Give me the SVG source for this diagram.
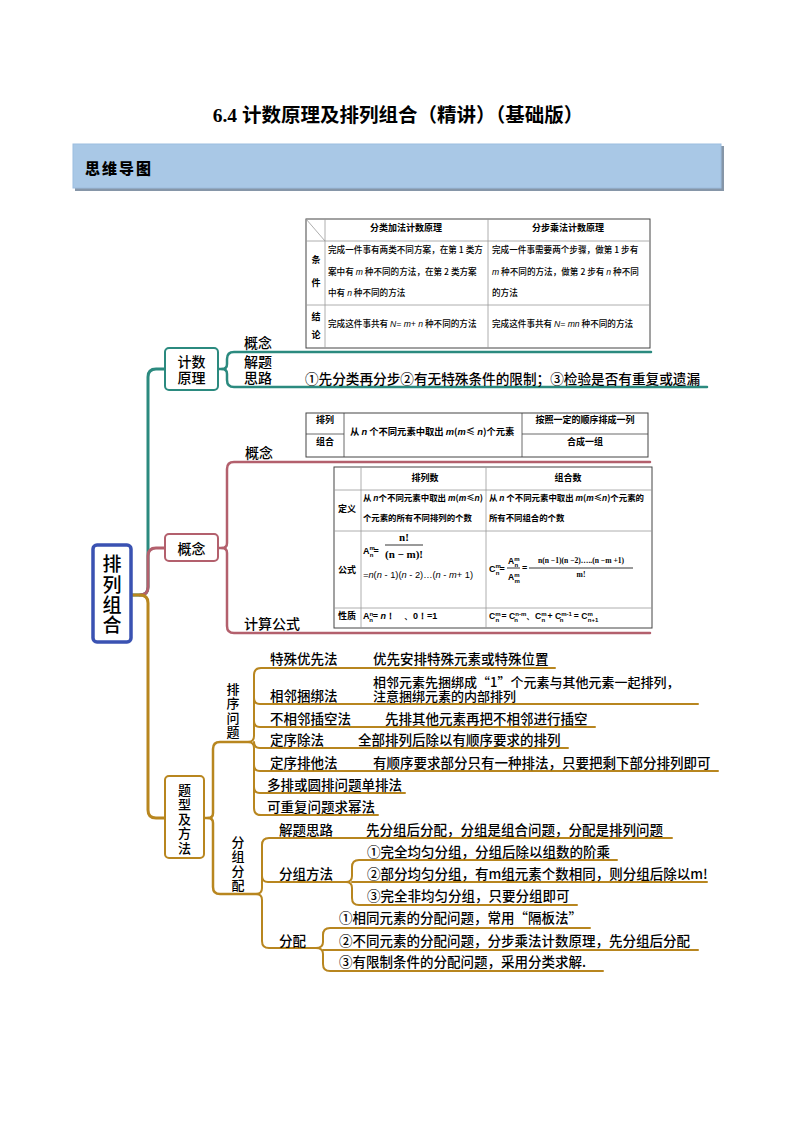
<svg xmlns="http://www.w3.org/2000/svg" width="794" height="1123" viewBox="0 0 794 1123">
<style>
text{font-family:"Noto Sans CJK SC","Liberation Sans",sans-serif;fill:#000;}
.t{font-size:13.5px;font-weight:500;dominant-baseline:central;}
.lb{font-size:14px;font-weight:500;dominant-baseline:central;}
.v{font-size:13px;font-weight:500;writing-mode:vertical-rl;letter-spacing:1.5px;}
.tb{font-size:8.6px;font-weight:500;}
.tbh{font-size:9px;font-weight:bold;}
.i{font-family:"Liberation Sans",sans-serif;font-style:italic;}
.f{font-family:"Liberation Serif",serif;font-weight:bold;}
.teal{stroke:#2b8a7f;fill:none;stroke-linecap:round;stroke-linejoin:round;}
.pink{stroke:#b3606d;fill:none;stroke-linecap:round;stroke-linejoin:round;}
.gold{stroke:#b8861f;fill:none;stroke-linecap:round;stroke-linejoin:round;}
.grid{stroke:#999;stroke-width:0.8;fill:none;}
.outer{stroke:#444;stroke-width:1;fill:#fff;}
.sub{font-size:6px;}
</style>
<rect width="794" height="1123" fill="#fff"/>
<g id="title">
<text x="398" y="122" text-anchor="middle" style="font-family:'Liberation Serif','Noto Sans CJK SC',serif;font-size:19.5px;font-weight:bold;">6.4 计数原理及排列组合（精讲）（基础版）</text>
</g>
<g id="header">
<rect x="75" y="146" width="649" height="45" fill="#8696a8"/>
<rect x="73" y="144" width="648" height="44" fill="#a9c8e6" stroke="#9cbddf" stroke-width="1"/>
<text x="85" y="167" style="font-size:15px;font-weight:900;dominant-baseline:central;letter-spacing:2px;">思维导图</text>
</g>

<g id="connectors">
<path class="teal" stroke-width="3" d="M131,595 H140 Q148,595 148,587 V377 Q148,369 156,369 H165"/>
<path class="teal" stroke-width="2.5" d="M218,369 H222 Q227,369 227,364 V359 Q227,352 234,352 H651"/>
<path class="teal" stroke-width="2.5" d="M222,369 Q227,369 227,374 V380 Q227,387 234,387 H707"/>
<path class="pink" stroke-width="3" d="M140,595 Q148,595 148,587 V556 Q148,548 156,548 H165"/>
<path class="pink" stroke-width="2.5" d="M218,548 H222 Q227,548 227,543 V469 Q227,462 234,462 H650"/>
<path class="pink" stroke-width="2.5" d="M222,548 Q227,548 227,553 V626 Q227,633 234,633 H650"/>
<path class="gold" stroke-width="3" d="M131,595 H140 Q148,595 148,603 V810 Q148,818 156,818 H165"/>
<path class="gold" stroke-width="2.5" d="M204,818 H208 Q213,818 213,813 V749 Q213,742 220,742 H250"/>
<path class="gold" stroke-width="2.5" d="M208,818 Q213,818 213,823 V887 Q213,894 220,894 H259"/>
<path class="gold" stroke-width="2" d="M248,742 Q254,742 254,736 V675 Q254,668 261,668 H555"/>
<path class="gold" stroke-width="2" d="M248,742 Q254,742 254,748 V808 Q254,815 261,815 H378"/>
<path class="gold" stroke-width="2" d="M254,698 Q254,704 260,704 H698"/>
<path class="gold" stroke-width="2" d="M254,721 Q254,727 260,727 H595"/>
<path class="gold" stroke-width="2" d="M254,742 Q254,748 260,748 H568"/>
<path class="gold" stroke-width="2" d="M254,765 Q254,771 260,771 H718"/>
<path class="gold" stroke-width="2" d="M254,787 Q254,793 260,793 H405"/>
<path class="gold" stroke-width="2" d="M256,894 Q262,894 262,888 V845 Q262,838 269,838 H672"/>
<path class="gold" stroke-width="2" d="M256,894 Q262,894 262,900 V941 Q262,948 269,948 H317"/>
<path class="gold" stroke-width="2" d="M262,876 Q262,882 268,882 H347"/>
<path class="gold" stroke-width="2" d="M346,882 Q352,882 352,876 V867 Q352,860 359,860 H617"/>
<path class="gold" stroke-width="2" d="M346,882 Q352,882 352,888 V898 Q352,905 359,905 H577"/>
<path class="gold" stroke-width="2" d="M352,882 H707"/>
<path class="gold" stroke-width="2" d="M316,948 Q323,948 323,942 V935 Q323,928 330,928 H590"/>
<path class="gold" stroke-width="2" d="M316,948 Q323,948 323,954 V964 Q323,971 330,971 H603"/>
<path class="gold" stroke-width="2" d="M323,950 H698"/>
</g>

<g id="root">
<rect x="93" y="545" width="38" height="97" rx="4" fill="#fff" stroke="#3a52b2" stroke-width="3.5"/>
<text x="112" y="554.5" style="font-size:19px;font-weight:500;writing-mode:vertical-rl;letter-spacing:1.3px;">排列组合</text>
</g>

<g id="node-jishu">
<rect x="165" y="348" width="53" height="42" rx="4" fill="#fff" stroke="#2b8a7f" stroke-width="2"/>
<text text-anchor="middle" class="lb"><tspan x="191.5" y="361">计数</tspan><tspan x="191.5" y="377">原理</tspan></text>
</g>
<g id="jishu-gainian">
<text x="244" y="342" class="lb">概念</text>
<rect x="306" y="219" width="344" height="129" class="outer"/>
<path class="grid" d="M325,219 V348 M488,219 V348 M306,241 H650 M306,305 H650 M306,219 L325,241"/>
<text x="406" y="231" text-anchor="middle" class="tbh">分类加法计数原理</text>
<text x="568" y="231" text-anchor="middle" class="tbh">分步乘法计数原理</text>
<text text-anchor="middle" class="tbh"><tspan x="316" y="263">条</tspan><tspan x="316" y="286">件</tspan></text>
<text x="328" y="253" class="tb">完成一件事有两类不同方案，在第 1 类方</text>
<text x="328" y="275" class="tb">案中有 <tspan class="i">m</tspan> 种不同的方法，在第 2 类方案</text>
<text x="328" y="296" class="tb">中有 <tspan class="i">n</tspan> 种不同的方法</text>
<text x="492" y="253" class="tb">完成一件事需要两个步骤，做第 1 步有</text>
<text x="492" y="275" class="tb"><tspan class="i">m</tspan> 种不同的方法，做第 2 步有 <tspan class="i">n</tspan> 种不同</text>
<text x="492" y="296" class="tb">的方法</text>
<text text-anchor="middle" class="tbh"><tspan x="316" y="320">结</tspan><tspan x="316" y="338">论</tspan></text>
<text x="328" y="327" class="tb">完成这件事共有 <tspan class="i">N= m+ n</tspan> 种不同的方法</text>
<text x="492" y="327" class="tb">完成这件事共有 <tspan class="i">N= mn</tspan> 种不同的方法</text>
</g>
<g id="jishu-silu">
<text class="lb"><tspan x="244" y="361">解题</tspan><tspan x="244" y="377">思路</tspan></text>
<text x="305" y="378" class="lb" textLength="395" lengthAdjust="spacingAndGlyphs">①先分类再分步②有无特殊条件的限制；③检验是否有重复或遗漏</text>
</g>

<g id="node-gainian">
<rect x="165" y="534" width="53" height="27" rx="4" fill="#fff" stroke="#b3606d" stroke-width="2"/>
<text x="191.5" y="548" text-anchor="middle" class="lb">概念</text>
</g>
<g id="gainian-gainian">
<text x="245" y="452" class="lb">概念</text>
<rect x="306" y="413" width="342" height="44" class="outer"/>
<path class="grid" style="stroke:#444" d="M344,413 V457 M522,413 V457 M306,434 H344 M522,434 H648"/>
<text x="325" y="423" text-anchor="middle" class="tbh">排列</text>
<text x="325" y="445" text-anchor="middle" class="tbh">组合</text>
<text x="350" y="435" style="font-size:9.3px;font-weight:bold;">从 <tspan class="i">n</tspan> 个不同元素中取出 <tspan class="i">m</tspan>(<tspan class="i">m</tspan>≤ <tspan class="i">n</tspan>)个元素</text>
<text x="585" y="423" text-anchor="middle" class="tbh">按照一定的顺序排成一列</text>
<text x="585" y="445" text-anchor="middle" class="tbh">合成一组</text>
</g>
<g id="gainian-gongshi">
<text x="244" y="623" class="lb">计算公式</text>
<rect x="334" y="467" width="318" height="161" class="outer"/>
<path class="grid" d="M361,467 V628 M486,467 V628 M334,490 H652 M334,531 H652 M334,608 H652"/>
<text x="425" y="481" text-anchor="middle" class="tbh">排列数</text>
<text x="568" y="481" text-anchor="middle" class="tbh">组合数</text>
<text x="347" y="512" text-anchor="middle" class="tbh">定义</text>
<text x="347" y="573" text-anchor="middle" class="tbh">公式</text>
<text x="347" y="619" text-anchor="middle" class="tbh">性质</text>
<text x="363" y="501" class="tbh" style="font-size:8.4px;" textLength="120" lengthAdjust="spacingAndGlyphs">从 <tspan class="i">n</tspan>个不同元素中取出 <tspan class="i">m</tspan>(<tspan class="i">m</tspan>≤<tspan class="i">n</tspan>)</text>
<text x="363" y="521" class="tbh" style="font-size:8.4px;">个元素的所有不同排列的个数</text>
<text x="489" y="501" class="tbh" style="font-size:8.4px;" textLength="155" lengthAdjust="spacingAndGlyphs">从 <tspan class="i">n</tspan> 个不同元素中取出 <tspan class="i">m</tspan>(<tspan class="i">m</tspan>≤<tspan class="i">n</tspan>)个元素的</text>
<text x="489" y="521" class="tbh" style="font-size:8.4px;">所有不同组合的个数</text>
<text x="363" y="554" style="font-size:9px;font-weight:bold;font-family:'Liberation Sans',sans-serif;">A<tspan class="sub" dy="-4">m</tspan><tspan class="sub" dx="-5" dy="7">n</tspan><tspan dy="-3">=</tspan></text>
<text text-anchor="middle" class="f" style="font-size:11px;"><tspan x="404" y="541">n!</tspan><tspan x="404" y="558">(n − m)!</tspan></text>
<line x1="385" y1="545" x2="423" y2="545" stroke="#000" stroke-width="0.8"/>
<text x="363" y="578" style="font-size:9.3px;font-family:'Liberation Sans',sans-serif;"><tspan class="i">=n</tspan>(<tspan class="i">n</tspan> - 1)(<tspan class="i">n</tspan> - 2)…(<tspan class="i">n</tspan> - <tspan class="i">m</tspan>+ 1)</text>
<text x="489" y="572" style="font-size:9px;font-weight:bold;font-family:'Liberation Sans',sans-serif;">C<tspan class="sub" dy="-4">m</tspan><tspan class="sub" dx="-5" dy="7">n</tspan><tspan dy="-3">=</tspan></text>
<text style="font-size:8.5px;font-weight:bold;font-family:'Liberation Sans',sans-serif;"><tspan x="508" y="564">A</tspan><tspan class="sub" dy="-3">m</tspan><tspan class="sub" dx="-5" dy="6">n</tspan><tspan x="508" y="580">A</tspan><tspan class="sub" dy="-3">m</tspan><tspan class="sub" dx="-5" dy="6">m</tspan><tspan x="522" y="571" style="font-size:9px;">=</tspan></text>
<line x1="507" y1="568" x2="520" y2="568" stroke="#000" stroke-width="0.8"/>
<text text-anchor="middle" class="f" style="font-size:7.6px;"><tspan x="581" y="563">n(n −1)(n −2)…..(n −m +1)</tspan><tspan x="581" y="577">m!</tspan></text>
<line x1="529" y1="568" x2="633" y2="568" stroke="#000" stroke-width="0.8"/>
<text x="363" y="619" style="font-size:9px;font-weight:bold;font-family:'Liberation Sans',sans-serif;">A<tspan class="sub" dy="-3">n</tspan><tspan class="sub" dx="-4" dy="6">n</tspan><tspan dy="-3">= </tspan><tspan class="i">n</tspan>！　、0！=1</text>
<text x="489" y="619" style="font-size:8.6px;font-weight:bold;font-family:'Liberation Sans',sans-serif;">C<tspan class="sub" dy="-3">m</tspan><tspan class="sub" dx="-5" dy="6">n</tspan><tspan dy="-3"> = C</tspan><tspan class="sub" dy="-3">n-m</tspan><tspan class="sub" dx="-12" dy="6">n</tspan><tspan dx="8" dy="-3">、C</tspan><tspan class="sub" dy="-3">m</tspan><tspan class="sub" dx="-5" dy="6">n</tspan><tspan dy="-3"> + C</tspan><tspan class="sub" dy="-3">m-1</tspan><tspan class="sub" dx="-12" dy="6">n</tspan><tspan dx="8" dy="-3"> = C</tspan><tspan class="sub" dy="-3">m</tspan><tspan class="sub" dx="-5" dy="6">n+1</tspan></text>
</g>

<g id="node-tixing">
<rect x="165" y="776" width="39" height="82" rx="4" fill="#fff" stroke="#b8861f" stroke-width="2"/>
<text x="184.5" y="783.5" class="v">题型及方法</text>
</g>
<g id="paixu">
<text x="233" y="682.5" class="v">排序问题</text>
<text x="270" y="658" class="t">特殊优先法</text>
<text x="373" y="658" class="t">优先安排特殊元素或特殊位置</text>
<text x="270" y="695" class="t">相邻捆绑法</text>
<text class="t" style="font-size:13px;"><tspan x="373" y="681">相邻元素先捆绑成“1”个元素与其他元素一起排列，</tspan><tspan x="373" y="695">注意捆绑元素的内部排列</tspan></text>
<text x="270" y="718" class="t">不相邻插空法</text>
<text x="385" y="718" class="t">先排其他元素再把不相邻进行插空</text>
<text x="270" y="739" class="t">定序除法</text>
<text x="358" y="739" class="t">全部排列后除以有顺序要求的排列</text>
<text x="270" y="762" class="t">定序排他法</text>
<text x="373" y="762" class="t">有顺序要求部分只有一种排法，只要把剩下部分排列即可</text>
<text x="267" y="784" class="t">多排或圆排问题单排法</text>
<text x="267" y="806" class="t">可重复问题求幂法</text>
</g>
<g id="fenzu">
<text x="238" y="835.5" class="v">分组分配</text>
<text x="279" y="829" class="t">解题思路</text>
<text x="366" y="829" class="t">先分组后分配，分组是组合问题，分配是排列问题</text>
<text x="279" y="873" class="t">分组方法</text>
<text x="367" y="851" class="t">①完全均匀分组，分组后除以组数的阶乘</text>
<text x="367" y="873" class="t">②部分均匀分组，有m组元素个数相同，则分组后除以m!</text>
<text x="367" y="895" class="t">③完全非均匀分组，只要分组即可</text>
<text x="279" y="940" class="t">分配</text>
<text x="339" y="917" class="t">①相同元素的分配问题，常用“隔板法”</text>
<text x="339" y="940" class="t">②不同元素的分配问题，分步乘法计数原理，先分组后分配</text>
<text x="339" y="961" class="t">③有限制条件的分配问题，采用分类求解.</text>
</g>
</svg>
